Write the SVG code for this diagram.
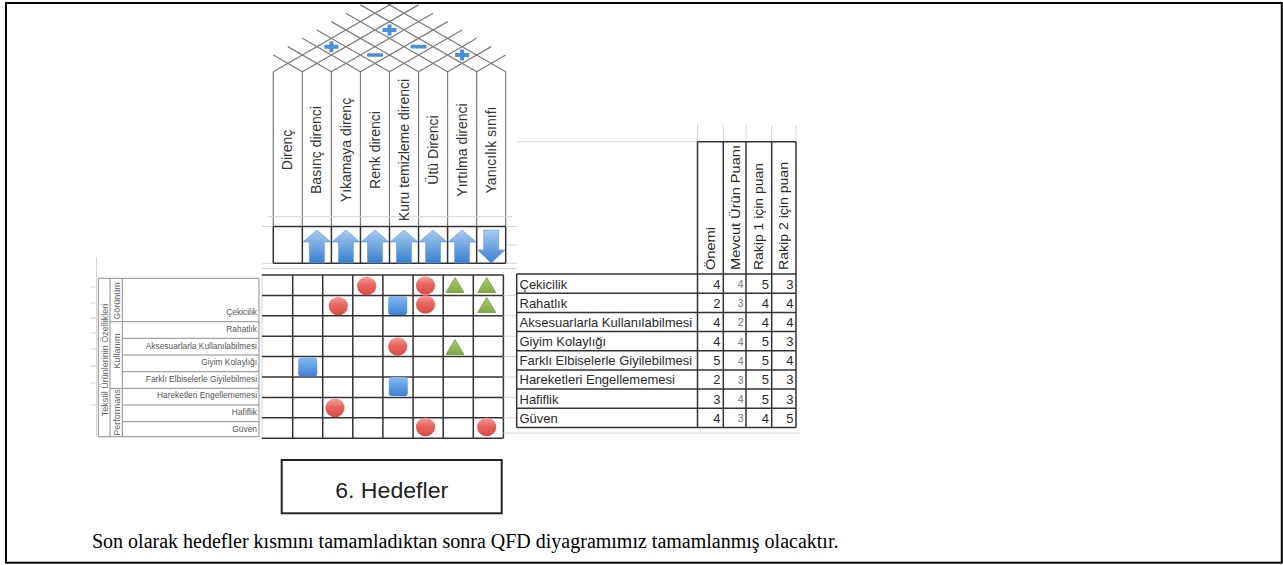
<svg xmlns="http://www.w3.org/2000/svg" width="1283" height="565" viewBox="0 0 1283 565">
<defs>
  <linearGradient id="gArrow" x1="0" y1="0" x2="0" y2="1">
    <stop offset="0" stop-color="#a9cbef"/>
    <stop offset="1" stop-color="#3a80d0"/>
  </linearGradient>
  <linearGradient id="gRed" x1="0" y1="0" x2="0" y2="1">
    <stop offset="0" stop-color="#f4a09a"/>
    <stop offset="0.45" stop-color="#e9655f"/>
    <stop offset="1" stop-color="#d84a44"/>
  </linearGradient>
  <linearGradient id="gBlue" x1="0" y1="0" x2="0" y2="1">
    <stop offset="0" stop-color="#86b8ee"/>
    <stop offset="1" stop-color="#3b82d4"/>
  </linearGradient>
  <linearGradient id="gGreen" x1="0" y1="0" x2="0" y2="1">
    <stop offset="0" stop-color="#abcc6e"/>
    <stop offset="1" stop-color="#7fab42"/>
  </linearGradient>
  <path id="arrowUp" d="M0,0 L14,12 L7.5,12 L7.5,33 L-7.5,33 L-7.5,12 L-14,12 Z"/>
  <path id="arrowDown" d="M-7.5,0 L7.5,0 L7.5,20 L13.7,20 L0,33 L-13.7,20 L-7.5,20 Z"/>
  <path id="plus" d="M-2,-5.5 H2 V-2 H7 V2 H2 V5.5 H-2 V2 H-7 V-2 H-2 Z"/>
  <rect id="minus" x="-8" y="-1.8" width="16" height="3.6" rx="1"/>
  <ellipse id="dot" cx="0" cy="0" rx="9.6" ry="9.3"/>
  <rect id="box" x="-9.5" y="-9.5" width="19" height="19" rx="3"/>
  <path id="tri" d="M0,-8 L9,7 L-9,7 Z"/>
  <clipPath id="roofClip"><rect x="240" y="4" width="300" height="80"/></clipPath>
  <style>
    .frame{fill:none;stroke:#000;stroke-width:2}
    .roof{fill:none;stroke:#7c7c7c;stroke-width:1.3}
    .hdr{stroke:#7c7c7c;stroke-width:1.2}
    .dk{stroke:#333;stroke-width:1.5;fill:none}
    .lt{stroke:#d6d6d6;stroke-width:1;fill:none}
    .md{stroke:#8c8c8c;stroke-width:1;fill:none}
    .sym{fill:#4a8fdc}
    .arr{fill:url(#gArrow);stroke:#5f98d8;stroke-width:0.6}
    .red{fill:url(#gRed)}
    .blu{fill:url(#gBlue)}
    .grn{fill:url(#gGreen);stroke:#6f9c3a;stroke-width:0.8}
    text{font-family:"Liberation Sans",Arial,sans-serif}
    .col{font-size:14px;fill:#333;text-anchor:middle}
    .req{font-size:8.4px;fill:#555;text-anchor:end}
    .grp{font-size:9px;fill:#666;text-anchor:middle}
    .lbl{font-size:13px;fill:#2a2a2a}
    .num{font-size:13px;fill:#2a2a2a;text-anchor:end}
    .numl{font-size:10.5px;fill:#777;text-anchor:end}
    .rh{font-size:12.5px;fill:#2a2a2a}
    .title{font-size:22px;fill:#222}
    .body{font-family:"Liberation Serif","Times New Roman",serif;font-size:20px;fill:#000}
  </style>
</defs>

<rect class="frame" x="6" y="3" width="1275.8" height="559.7"/>

<!-- correlation roof -->
<g id="roof" clip-path="url(#roofClip)">
  <path class="roof" d="
    M273.3,71.7 L391.04,4  M302.35,71.7 L418.55,4.88  M331.4,71.7 L433.075,13.24
    M360.45,71.7 L447.6,21.59  M389.5,71.7 L462.125,29.94  M418.55,71.7 L476.65,38.29
    M447.6,71.7 L491.175,46.64  M476.65,71.7 L505.7,55
    M505.7,71.7 L387.96,4  M476.65,71.7 L360.45,4.88  M447.6,71.7 L345.925,13.24
    M418.55,71.7 L331.4,21.59  M389.5,71.7 L316.875,29.94  M360.45,71.7 L302.35,38.29
    M331.4,71.7 L287.825,46.64  M302.35,71.7 L273.3,55"/>
  <use href="#plus" class="sym" x="331.4" y="46.65"/>
  <use href="#plus" class="sym" x="389.5" y="29.95"/>
  <use href="#minus" class="sym" x="375" y="55"/>
  <use href="#minus" class="sym" x="418.55" y="46.65"/>
  <use href="#plus" class="sym" x="462.1" y="55"/>
</g>

<!-- technical characteristics header -->
<g id="header">
  <path class="hdr" d="M273.3,71.7V226.5 M302.35,71.7V226.5 M331.4,71.7V226.5 M360.45,71.7V226.5 M389.5,71.7V226.5 M418.55,71.7V226.5 M447.6,71.7V226.5 M476.65,71.7V226.5 M505.7,71.7V226.5"/>
  <line class="lt" x1="268" y1="216.7" x2="512" y2="216.7"/>
  <text class="col" transform="translate(292.3,150) rotate(-90)">Direnç</text>
  <text class="col" transform="translate(321.4,150) rotate(-90)">Basınç direnci</text>
  <text class="col" transform="translate(350.5,150) rotate(-90)">Yıkamaya direnç</text>
  <text class="col" transform="translate(379.5,150) rotate(-90)">Renk direnci</text>
  <text class="col" transform="translate(408.5,150) rotate(-90)">Kuru temizleme direnci</text>
  <text class="col" transform="translate(437.6,150) rotate(-90)">Ütü Direnci</text>
  <text class="col" transform="translate(466.6,150) rotate(-90)">Yırtılma direnci</text>
  <text class="col" transform="translate(495.7,150) rotate(-90)">Yanıcılık sınıfı</text>
</g>

<!-- improvement direction row -->
<g id="directions">
  <path class="lt" d="M262,226.5H273 M505.7,226.5H517 M262,263.3H273 M505.7,263.3H517 M262,268.5H517 M505.7,245H517"/>
  <path class="dk" d="M273.3,226.5H505.7 M273.3,263.3H505.7 M273.3,226.5V263.3 M302.35,226.5V263.3 M331.4,226.5V263.3 M360.45,226.5V263.3 M389.5,226.5V263.3 M418.55,226.5V263.3 M447.6,226.5V263.3 M476.65,226.5V263.3 M505.7,226.5V263.3"/>
  <use href="#arrowUp" class="arr" x="316.9" y="230"/>
  <use href="#arrowUp" class="arr" x="345.9" y="230"/>
  <use href="#arrowUp" class="arr" x="375" y="230"/>
  <use href="#arrowUp" class="arr" x="404" y="230"/>
  <use href="#arrowUp" class="arr" x="433.1" y="230"/>
  <use href="#arrowUp" class="arr" x="462.1" y="230"/>
  <use href="#arrowDown" class="arr" x="491.2" y="230"/>
</g>

<!-- customer requirements (left) -->
<g id="requirements">
  <line class="lt" x1="96.5" y1="257" x2="96.5" y2="437"/>
  <path class="lt" d="M90,287H97 M90,303H97 M90,318H97 M90,333H97 M90,349H97 M90,366H97 M90,383H97 M90,405H97"/>
  <path class="md" d="M98.3,278.3H259 V436.7 H98.3 Z M110,278.3V436.7 M122.3,278.3V436.7
    M110,321.7H259 M110,388.3H259 M122.3,338.3H259 M122.3,355H259 M122.3,371.7H259 M122.3,405H259 M122.3,421.7H259"/>
  <text class="grp" transform="translate(107.5,360) rotate(-90)">Tekstil Ürünlerinin Özellikleri</text>
  <text class="grp" transform="translate(119.5,301) rotate(-90)">Görünüm</text>
  <text class="grp" transform="translate(119.5,351) rotate(-90)">Kullanım</text>
  <text class="grp" transform="translate(119.5,412.5) rotate(-90)">Performans</text>
  <text class="req" x="257" y="315">Çekicilik</text>
  <text class="req" x="257" y="331.7">Rahatlık</text>
  <text class="req" x="257" y="349">Aksesuarlarla Kullanılabilmesi</text>
  <text class="req" x="257" y="365">Giyim Kolaylığı</text>
  <text class="req" x="257" y="381.7">Farklı Elbiselerle Giyilebilmesi</text>
  <text class="req" x="257" y="398">Hareketleri Engellememesi</text>
  <text class="req" x="257" y="415">Hafiflik</text>
  <text class="req" x="257" y="431.7">Güven</text>
</g>

<!-- relationship matrix -->
<g id="matrix">
  <line class="lt" x1="262" y1="275" x2="262" y2="438.2"/>
  <path class="dk" d="M262,275H503.4 M262,295.4H503.4 M262,315.8H503.4 M262,336.2H503.4 M262,356.6H503.4 M262,377H503.4 M262,397.4H503.4 M262,417.8H503.4 M262,438.2H503.4
    M292.7,275V438.2 M322.7,275V438.2 M352.8,275V438.2 M382.9,275V438.2 M413.1,275V438.2 M443.2,275V438.2 M473.3,275V438.2 M503.4,275V438.2"/>
  <path class="lt" d="M503.4,295.4H516 M503.4,315.8H516 M503.4,336.2H516 M503.4,356.6H516 M503.4,377H516 M503.4,397.4H516 M503.4,417.8H516 M503.4,433H800"/>
  <use href="#dot" class="red" x="366.7" y="286"/>
  <use href="#dot" class="red" x="425.5" y="285.5"/>
  <use href="#tri" class="grn" x="455" y="285.5"/>
  <use href="#tri" class="grn" x="486.7" y="285.5"/>
  <use href="#dot" class="red" x="338.3" y="306"/>
  <use href="#box" class="blu" x="397.7" y="305.5"/>
  <use href="#dot" class="red" x="425.5" y="304.5"/>
  <use href="#tri" class="grn" x="486.7" y="305.5"/>
  <use href="#dot" class="red" x="397.7" y="346.5"/>
  <use href="#tri" class="grn" x="455" y="347.5"/>
  <use href="#box" class="blu" x="307.7" y="367"/>
  <use href="#box" class="blu" x="398.3" y="386.5"/>
  <use href="#dot" class="red" x="335" y="407.8"/>
  <use href="#dot" class="red" x="425.5" y="427"/>
  <use href="#dot" class="red" x="486.7" y="427"/>
</g>

<!-- planning table (right) -->
<g id="planning">
  <path class="lt" d="M516.7,141.7H697.5 M697.5,125V141.7 M723.3,125V141.7 M746,125V141.7 M771.7,125V141.7 M796,125V141.7"/>
  <path class="dk" d="M697.5,141.7H796 M697.5,141.7V427.5 M723.3,141.7V427.5 M746,141.7V427.5 M771.7,141.7V427.5 M796,141.7V427.5
    M516.7,274V427.5
    M516.7,274H796 M516.7,293.2H796 M516.7,312.4H796 M516.7,331.6H796 M516.7,350.8H796 M516.7,369.9H796 M516.7,389.1H796 M516.7,408.3H796 M516.7,427.5H796"/>
  <text class="rh" transform="translate(715,270) rotate(-90)" textLength="43" lengthAdjust="spacingAndGlyphs">Önemi</text>
  <text class="rh" transform="translate(740,270) rotate(-90)" textLength="125" lengthAdjust="spacingAndGlyphs">Mevcut Ürün Puanı</text>
  <text class="rh" transform="translate(763,270) rotate(-90)" textLength="107" lengthAdjust="spacingAndGlyphs">Rakip 1 için puan</text>
  <text class="rh" transform="translate(788,270) rotate(-90)" textLength="108" lengthAdjust="spacingAndGlyphs">Rakip 2 için puan</text>

  <text class="lbl" x="519.5" y="288.5">Çekicilik</text>
  <text class="lbl" x="519.5" y="307.7">Rahatlık</text>
  <text class="lbl" x="519.5" y="326.9">Aksesuarlarla Kullanılabilmesi</text>
  <text class="lbl" x="519.5" y="346.1">Giyim Kolaylığı</text>
  <text class="lbl" x="519.5" y="365.3">Farklı Elbiselerle Giyilebilmesi</text>
  <text class="lbl" x="519.5" y="384.4">Hareketleri Engellememesi</text>
  <text class="lbl" x="519.5" y="403.6">Hafiflik</text>
  <text class="lbl" x="519.5" y="422.8">Güven</text>

  <g class="num">
    <text x="720.5" y="288.5">4</text><text x="720.5" y="307.7">2</text><text x="720.5" y="326.9">4</text><text x="720.5" y="346.1">4</text>
    <text x="720.5" y="365.3">5</text><text x="720.5" y="384.4">2</text><text x="720.5" y="403.6">3</text><text x="720.5" y="422.8">4</text>
  </g>
  <g class="numl">
    <text x="743.5" y="288">4</text><text x="743.5" y="307.2">3</text><text x="743.5" y="326.4">2</text><text x="743.5" y="345.6">4</text>
    <text x="743.5" y="364.8">4</text><text x="743.5" y="383.9">3</text><text x="743.5" y="403.1">4</text><text x="743.5" y="422.3">3</text>
  </g>
  <g class="num">
    <text x="769" y="288.5">5</text><text x="769" y="307.7">4</text><text x="769" y="326.9">4</text><text x="769" y="346.1">5</text>
    <text x="769" y="365.3">5</text><text x="769" y="384.4">5</text><text x="769" y="403.6">5</text><text x="769" y="422.8">4</text>
  </g>
  <g class="num">
    <text x="793.5" y="288.5">3</text><text x="793.5" y="307.7">4</text><text x="793.5" y="326.9">4</text><text x="793.5" y="346.1">3</text>
    <text x="793.5" y="365.3">4</text><text x="793.5" y="384.4">3</text><text x="793.5" y="403.6">3</text><text x="793.5" y="422.8">5</text>
  </g>
</g>

<!-- section label -->
<g id="targets">
  <rect x="281.7" y="460" width="220" height="53.3" fill="#fff" stroke="#222" stroke-width="2"/>
  <text class="title" x="391.7" y="498" text-anchor="middle" textLength="113" lengthAdjust="spacingAndGlyphs">6. Hedefler</text>
</g>

<text class="body" x="92" y="548">Son olarak hedefler kısmını tamamladıktan sonra QFD diyagramımız tamamlanmış olacaktır.</text>
</svg>
